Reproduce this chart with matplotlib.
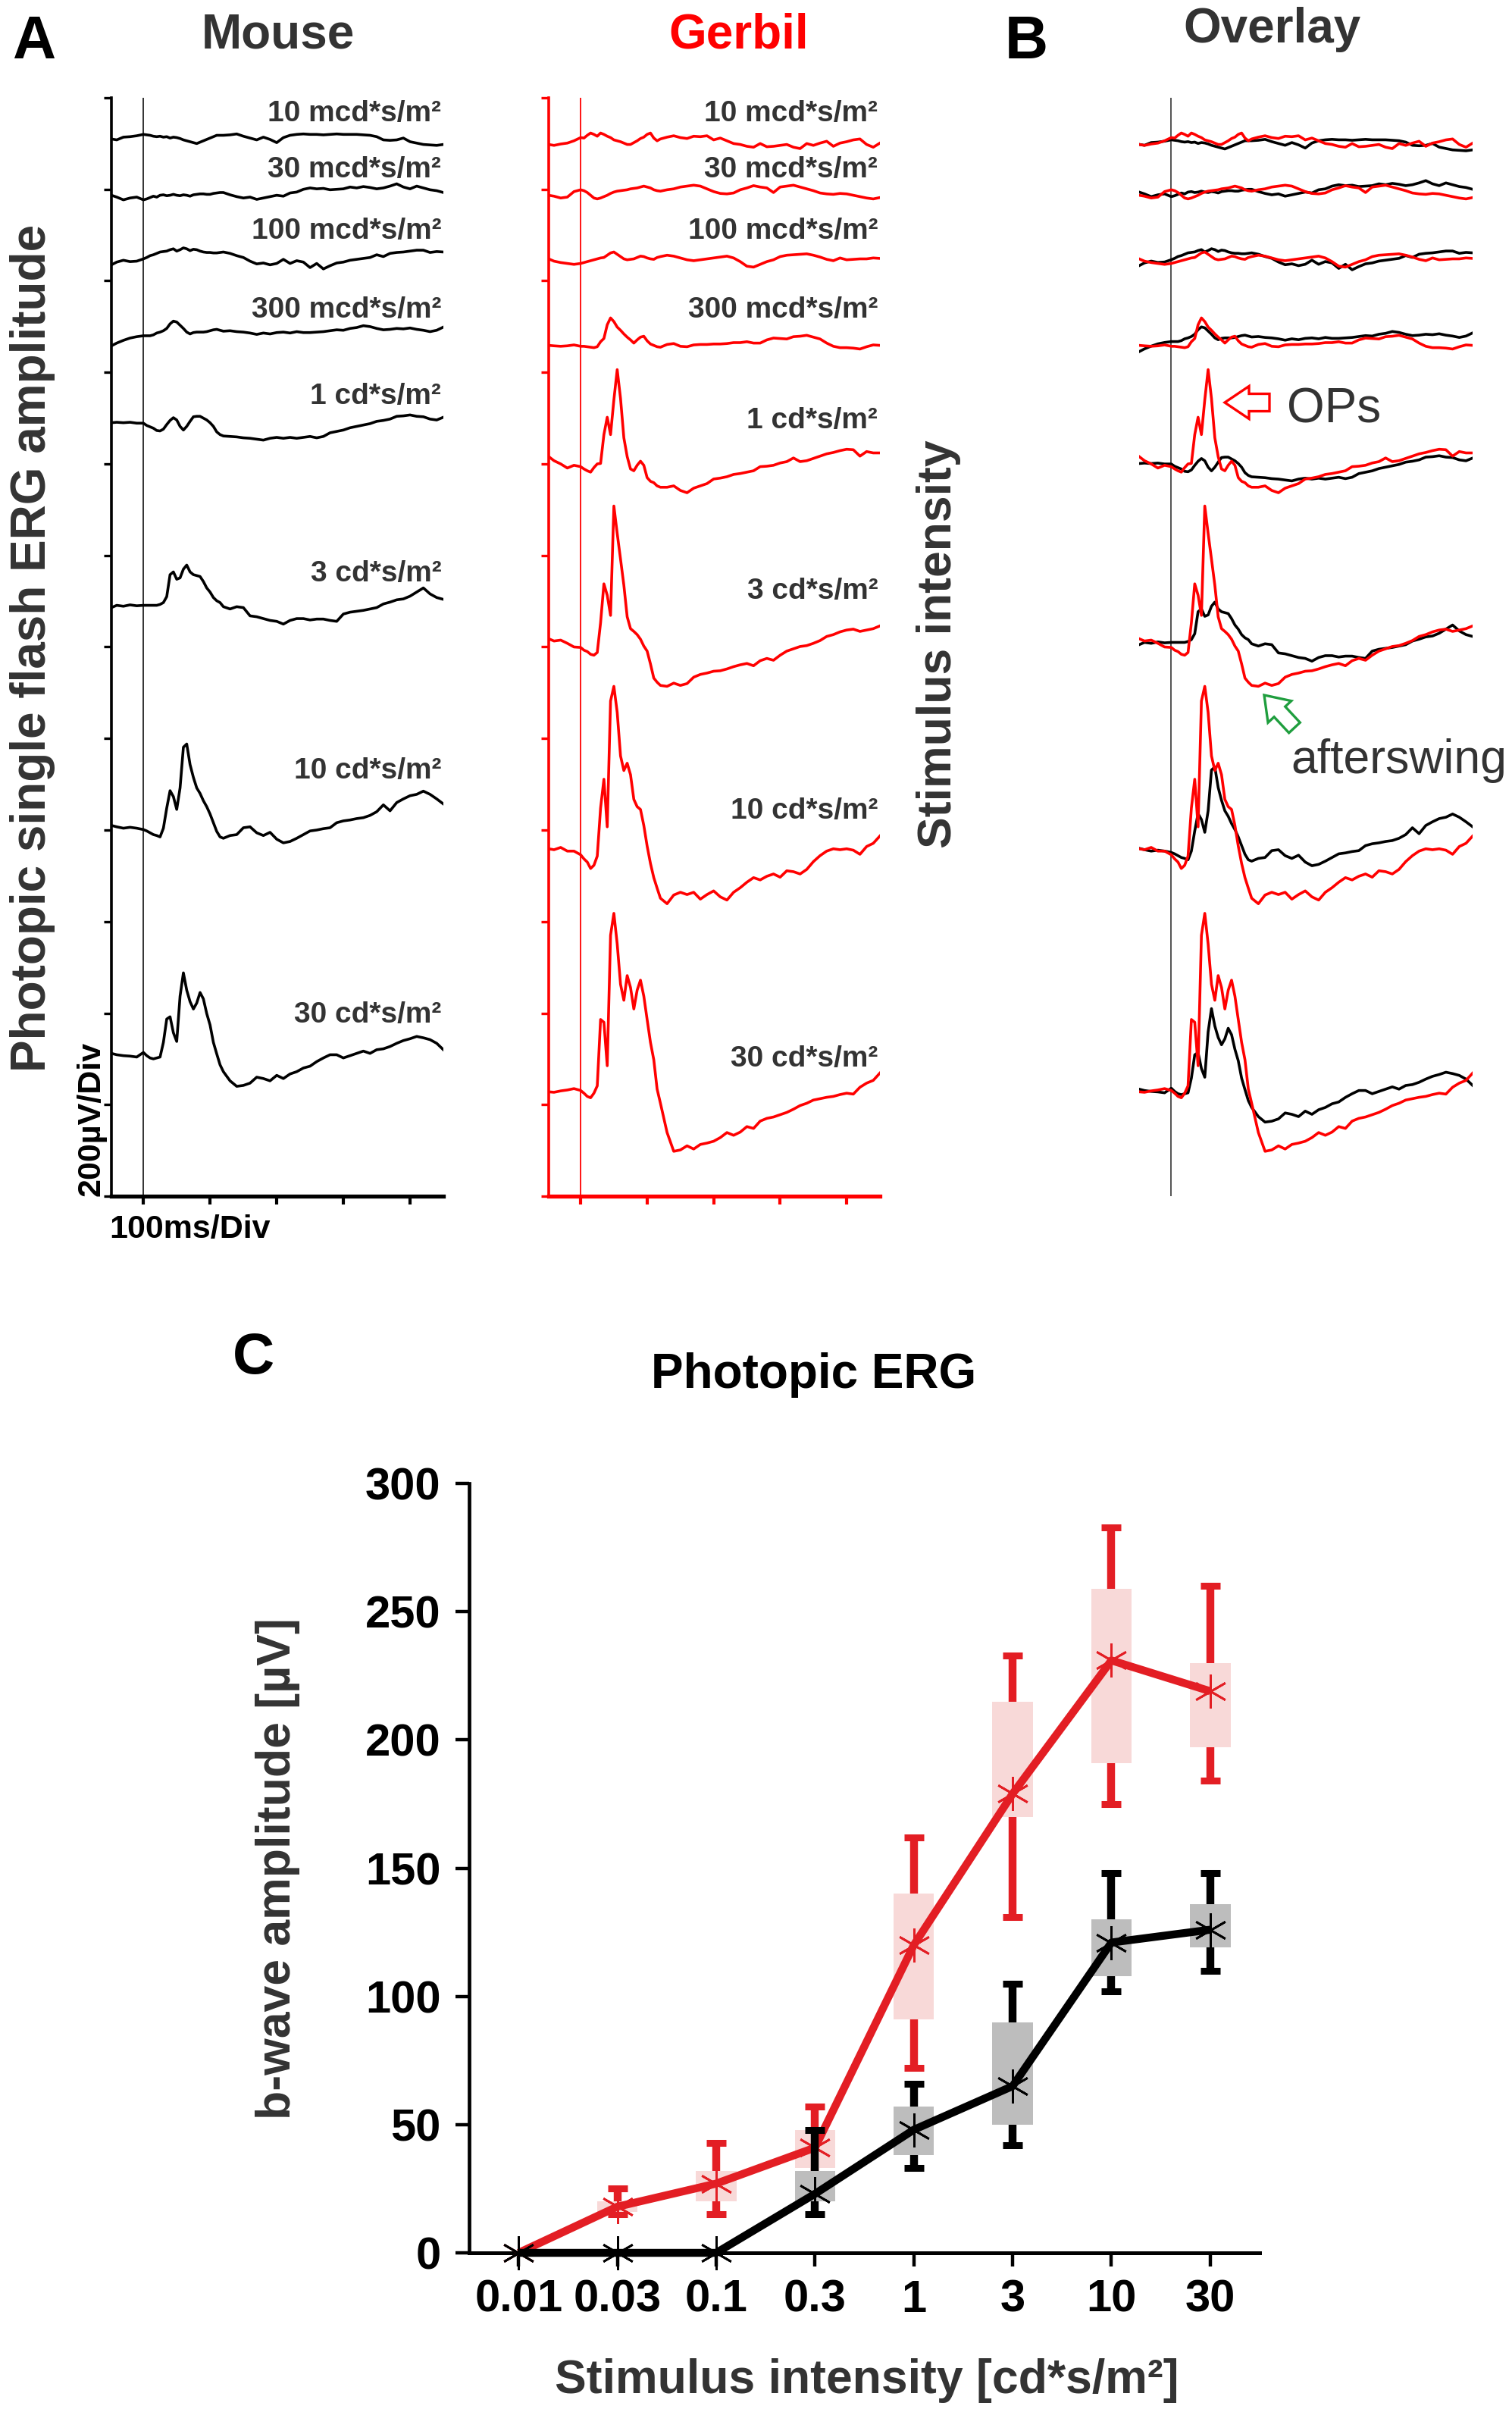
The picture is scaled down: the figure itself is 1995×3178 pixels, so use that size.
import numpy as np
import matplotlib
matplotlib.use('Agg')
import matplotlib.pyplot as plt
from matplotlib.patches import FancyArrow

plt.rcParams['font.family'] = ['Liberation Sans', 'DejaVu Sans']

# sample times of the digitised ERG sweeps (ms after the flash)
t_ms = [-48, -40, -30, -20, -10, 0, 5, 10, 15, 20, 25, 30, 35, 40, 45, 50, 55, 60, 65,
        70, 75, 80, 85, 90, 95, 100, 105, 110, 115, 120, 130, 140, 150, 160, 170, 180,
        190, 200, 210, 220, 230, 240, 250, 260, 270, 280, 290, 300, 310, 320, 330, 340,
        350, 360, 370, 380, 390, 400, 410, 420, 430, 440, 450]

flash_labels = ['10 mcd*s/m²', '30 mcd*s/m²', '100 mcd*s/m²', '300 mcd*s/m²',
                '1 cd*s/m²', '3 cd*s/m²', '10 cd*s/m²', '30 cd*s/m²']

# mouse sweeps, uV relative to sweep start
mouse_10m = [0, -2, 4, 5, 7,
             10, 9, 8, 6, 5, 6, 4, 5, 2, 4, 3, 1, -2, -4, -6, -8, -10, -7, -4, -1, 2, 5, 8, 8, 8,
             9, 11, 6, 2, -2, 4, -1, -8, 3, 8, 10, 11, 10, 10, 9, 10, 11, 10, 10, 10, 9, 8, 5, -2, -3, -2, 2, -6, -9, -12, -13, -14, -12]
mouse_30m = [0, -4, -10, -6, -4,
             -10, -8, -5, -2, -4, 0, 1, -1, 0, 2, 0, -1, 1, 0, -2, 1, 2, 3, 3, 2, 2, 4, 5, 6, 6,
             1, -3, -6, -4, -9, -6, -3, 0, -2, 5, 7, 13, 16, 14, 15, 12, 13, 14, 18, 16, 19, 17, 14, 16, 20, 25, 18, 14, 20, 16, 12, 10, 6]
mouse_100m = [0, 6, 10, 7, 8,
              13, 16, 20, 22, 25, 28, 29, 30, 33, 35, 30, 33, 37, 35, 31, 34, 33, 30, 28, 27, 27, 26, 26, 27, 28,
              25, 20, 16, 8, 2, 4, 0, 3, 12, 3, 9, 6, -6, 3, -9, -2, 4, 6, 10, 12, 14, 16, 22, 18, 25, 27, 28, 30, 32, 32, 27, 29, 28]
mouse_300m = [0, 6, 12, 17, 20,
              22, 22, 22, 24, 28, 30, 33, 38, 48, 54, 52, 45, 38, 30, 26, 29, 30, 30, 30, 31, 33, 35, 36, 34, 32,
              33, 31, 30, 28, 25, 28, 26, 29, 30, 28, 31, 29, 29, 30, 31, 33, 35, 34, 38, 40, 44, 42, 38, 35, 36, 38, 37, 39, 36, 34, 31, 34, 41]
mouse_1 = [0, 1, 0, 1, -1,
           -1, -6, -9, -12, -17, -18, -14, -4, 5, 11, 6, -8, -16, -8, 3, 13, 14, 14, 10, 6, 0, -8, -20, -26, -29,
           -30, -31, -33, -34, -36, -38, -34, -32, -34, -32, -34, -32, -30, -33, -30, -22, -19, -16, -11, -8, -5, -2, 3, 5, 8, 14, 15, 17, 14, 13, 8, 6, 12]
mouse_3 = [0, 5, 3, 6, 4,
           5, 5, 5, 5, 5, 7, 11, 24, 72, 78, 62, 65, 84, 93, 78, 72, 70, 68, 57, 43, 34, 22, 15, 11, 2,
           -3, 2, 0, -18, -20, -24, -28, -30, -36, -28, -24, -24, -27, -25, -25, -28, -30, -14, -10, -8, -6, -3, 0, 8, 12, 17, 19, 25, 34, 43, 30, 22, 18]
mouse_10 = [0, -3, -6, -4, -6,
            -9, -12, -16, -20, -22, -25, -6, 38, 76, 63, 35, 82, 171, 178, 133, 105, 82, 70, 54, 41, 25, 6, -13, -25, -28,
            -22, -20, -5, -3, -16, -22, -15, -30, -38, -35, -28, -20, -12, -10, -7, -5, 6, 10, 12, 15, 17, 22, 30, 45, 32, 50, 58, 65, 68, 75, 68, 58, 47]
mouse_30 = [0, -3, -5, -6, -8,
            2, -5, -10, -12, -10, -8, 24, 75, 80, 45, 26, 125, 176, 138, 113, 97, 110, 133, 119, 87, 62, 24, -1, -25, -40,
            -60, -72, -70, -65, -52, -55, -60, -48, -55, -45, -40, -32, -28, -18, -10, -3, -3, -10, -5, 0, 5, 0, 8, 10, 15, 22, 28, 32, 37, 34, 30, 22, 8]

# gerbil sweeps, uV relative to sweep baseline
gerbil_10m = [0, -2, 1, 3, 8,
              15, 14, 20, 25, 22, 18, 25, 22, 18, 15, 10, 8, 6, 3, 0, 0, 4, 8, 13, 16, 22, 25, 14, 8, 12,
              16, 19, 15, 13, 18, 17, 19, 10, 14, 8, 2, 0, -4, -6, 2, -5, -4, -2, 0, -6, -9, 2, -2, 3, 7, -4, 3, 6, 10, 12, 0, -6, 3]
gerbil_30m = [0, -2, -6, -4, 8,
              12, 10, 6, 0, -6, -8, -6, -3, 0, 4, 7, 9, 10, 11, 12, 14, 15, 16, 18, 20, 18, 16, 12, 10, 9,
              12, 14, 18, 20, 22, 20, 14, 8, 4, 3, 5, 12, 16, 21, 18, 16, 6, 18, 20, 22, 18, 14, 10, 5, 3, 2, 4, 3, 0, -3, -6, -8, -5]
gerbil_100m = [0, -5, -8, -10, -12,
               -10, -8, -6, -4, -2, 0, 2, 3, 8, 13, 15, 10, 5, 0, -2, -1, 0, 3, 6, 5, 2, 0, -1, 3, 5,
               8, 6, 2, -2, -4, -2, 0, 2, 4, 6, 2, -6, -16, -18, -12, -6, -2, 5, 8, 9, 10, 11, 8, 4, -1, -4, 2, -2, -1, 0, 0, 2, 1]
gerbil_300m = [0, -1, -2, -1, 1,
               -2, -2, -3, -4, -5, -3, 8, 15, 45, 60, 52, 40, 33, 25, 18, 12, 5, 12, 18, 20, 10, 3, 0, -3, -4,
               2, 4, -2, -3, 1, 2, 2, 3, 3, 4, 6, 6, 8, 5, 5, 12, 16, 15, 14, 19, 20, 22, 18, 14, 5, -2, -5, -5, -6, -8, -3, 1, 0]
gerbil_1 = [19, 10, 3, -6, 0,
            -3, -8, -12, -15, -5, 3, 4, 67, 105, 67, 143, 209, 146, 60, 19, -8, -12, 0, 9, 0, -27, -35, -38, -45, -48,
            -48, -45, -55, -60, -50, -45, -40, -30, -28, -25, -20, -18, -15, -12, -3, -2, 0, 5, 8, 16, 8, 10, 15, 20, 25, 28, 32, 35, 34, 20, 30, 27, 27]
gerbil_3 = [0, -5, -3, -10, -18,
            -19, -25, -28, -34, -36, -30, 35, 120, 95, 51, 290, 230, 174, 117, 48, 22, 16, 9, -1, -16, -27, -55, -86, -95, -102,
            -104, -97, -102, -98, -84, -78, -75, -71, -70, -66, -61, -57, -54, -59, -48, -43, -47, -36, -27, -22, -17, -15, -10, -4, 5, 9, 15, 19, 21, 16, 19, 22, 28]
gerbil_10 = [0, -2, 3, -5, -5,
             -13, -22, -29, -43, -36, -16, 89, 152, 48, 323, 355, 298, 203, 171, 187, 162, 108, 92, 86, 51, 6, -32, -63, -86, -108,
             -120, -101, -95, -100, -95, -110, -100, -92, -105, -112, -95, -85, -73, -63, -68, -60, -55, -62, -48, -50, -55, -45, -28, -15, -5, 0, -2, 0, -3, -12, 5, 12, 28]
gerbil_30 = [0, -1, 2, 4, 7,
             3, -3, -10, -13, -3, 13, 158, 152, 57, 342, 390, 323, 235, 200, 254, 228, 181, 222, 244, 209, 158, 108, 70, 6, -25,
             -89, -130, -127, -118, -125, -115, -112, -108, -100, -89, -95, -88, -76, -80, -64, -58, -55, -50, -45, -38, -30, -25, -18, -15, -12, -10, -6, -3, -5, 10, 19, 25, 41]

mouse_traces = [mouse_10m, mouse_30m, mouse_100m, mouse_300m, mouse_1, mouse_3, mouse_10, mouse_30]
gerbil_traces = [gerbil_10m, gerbil_30m, gerbil_100m, gerbil_300m, gerbil_1, gerbil_3, gerbil_10, gerbil_30]

# panel C: b-wave amplitude (uV)
intensities = ['0.01', '0.03', '0.1', '0.3', '1', '3', '10', '30']
gerbil_mean = [0, 18, 27, 41, 120, 179, 231, 219]
gerbil_box_lo = [0, 16, 20, 33, 91, 170, 191, 197]
gerbil_box_hi = [0, 20, 32, 48, 140, 215, 259, 230]
gerbil_err_lo = [0, 15, 15, 30, 72, 131, 175, 184]
gerbil_err_hi = [0, 25, 43, 57, 162, 233, 283, 260]
mouse_mean = [0, 0, 0, 23, 48, 65, 121, 126]
mouse_box_lo = [0, 0, 0, 20, 38, 50, 108, 119]
mouse_box_hi = [0, 0, 0, 32, 57, 90, 130, 136]
mouse_err_lo = [0, 0, 0, 15, 33, 42, 102, 110]
mouse_err_hi = [0, 0, 0, 48, 66, 105, 148, 148]

# vertical placement of each sweep and its label (uV on the stacked axis)
mouse_base = [2310, 2187, 2035, 1858, 1690, 1286, 810, 312]
gerbil_base = [2298, 2187, 2048, 1859, 1597, 1218, 759, 228]
mouse_label_y = [2365, 2242, 2108, 1937, 1747, 1360, 930, 396]
gerbil_label_y = [2365, 2242, 2108, 1937, 1695, 1321, 842, 300]

RED = '#ff0000'
DARK = '#333333'
LW = 2.6

fig = plt.figure(figsize=(19.95, 31.78), dpi=100)


def trace_axes(rect, color, vcolor):
    ax = fig.add_axes(rect)
    ax.set_xlim(-48, 450)
    ax.set_ylim(0, 2400)
    ax.spines['top'].set_visible(False)
    ax.spines['right'].set_visible(False)
    ax.spines['left'].set_linewidth(2.6)
    ax.spines['bottom'].set_linewidth(3.8)
    ax.spines['left'].set_color(color)
    ax.spines['bottom'].set_color(color)
    ax.set_yticks(np.arange(0, 2401, 200))
    ax.set_xticks([0, 100, 200, 300, 400])
    ax.tick_params(direction='out', color=color, labelleft=False, labelbottom=False)
    ax.tick_params(axis='y', length=7, width=2.4)
    ax.tick_params(axis='x', length=8, width=3)
    ax.axvline(0, color=vcolor, lw=1.3, zorder=1)
    return ax


ax_m = trace_axes([0.07368, 0.50346, 0.21955, 0.45595], 'black', '#222222')
for tr, b, ly, lab in zip(mouse_traces, mouse_base, mouse_label_y, flash_labels):
    ax_m.plot(t_ms, np.array(tr) + b, color='black', lw=LW, zorder=3)
    ax_m.text(447, ly, lab, ha='right', va='center', fontsize=28, fontweight='bold', color=DARK)

ax_g = trace_axes([0.3629, 0.50346, 0.21905, 0.45595], RED, RED)
for tr, b, ly, lab in zip(gerbil_traces, gerbil_base, gerbil_label_y, flash_labels):
    ax_g.plot(t_ms, np.array(tr) + b, color=RED, lw=LW, zorder=3)
    ax_g.text(447, ly, lab, ha='right', va='center', fontsize=28, fontweight='bold', color=DARK)

# overlay: mouse sweeps aligned to the gerbil pre-flash baseline
ax_o = fig.add_axes([0.7534, 0.50346, 0.2206, 0.45595])
ax_o.set_xlim(-48, 450)
ax_o.set_ylim(0, 2400)
ax_o.axis('off')
ax_o.axvline(0, color='#444444', lw=1.3, zorder=1)
for mt, gt, b in zip(mouse_traces, gerbil_traces, gerbil_base):
    shift = np.mean(gt[:6]) - np.mean(mt[:6])
    ax_o.plot(t_ms, np.array(mt) + b + shift, color='black', lw=LW, zorder=2)
    ax_o.plot(t_ms, np.array(gt) + b, color=RED, lw=LW, zorder=3)

# panel C
ax_c = fig.add_axes([0.31028, 0.06482, 0.52281, 0.31938])
xpos = np.arange(len(intensities))
ax_c.set_xlim(-0.5, 7.5)
ax_c.set_ylim(0, 300)
ax_c.spines['top'].set_visible(False)
ax_c.spines['right'].set_visible(False)
ax_c.spines['left'].set_linewidth(3.4)
ax_c.spines['bottom'].set_linewidth(3.6)
ax_c.set_yticks([0, 50, 100, 150, 200, 250, 300])
ax_c.set_xticks(xpos)
ax_c.set_xticklabels(intensities)
ax_c.tick_params(direction='out', length=13, width=3.2, labelsize=43, pad=12)
ax_c.tick_params(axis='y', pad=14)
for lab in ax_c.get_xticklabels() + ax_c.get_yticklabels():
    lab.set_fontweight('bold')


def draw_group(mean, blo, bhi, elo, ehi, line_c, box_c, z):
    mean = np.array(mean, float)
    elo = np.array(elo, float)
    ehi = np.array(ehi, float)
    blo = np.array(blo, float)
    bhi = np.array(bhi, float)
    keep = ehi > elo
    ax_c.errorbar(xpos[keep], mean[keep], yerr=[mean[keep] - elo[keep], ehi[keep] - mean[keep]],
                  fmt='none', ecolor=line_c, elinewidth=7.5, capsize=9.5, capthick=6.5, zorder=z)
    ax_c.bar(xpos[keep], bhi[keep] - blo[keep], bottom=blo[keep], width=0.41,
             color=box_c, edgecolor='none', zorder=z + 1)
    ax_c.plot(xpos, mean, color=line_c, lw=7.5, zorder=z + 2, clip_on=False, solid_capstyle='butt')
    ax_c.plot(xpos, mean, ls='none', marker=(6, 2, 0), ms=32, mec=line_c, mew=2.0,
              zorder=z + 3, clip_on=False)


draw_group(gerbil_mean, gerbil_box_lo, gerbil_box_hi, gerbil_err_lo, gerbil_err_hi,
           '#e31e24', '#f8d9d8', 2)
draw_group(mouse_mean, mouse_box_lo, mouse_box_hi, mouse_err_lo, mouse_err_hi,
           'black', '#bdbdbd', 6)

# free text and arrows in pixel coordinates
ax_p = fig.add_axes([0, 0, 1, 1], zorder=10)
ax_p.set_xlim(0, 1995)
ax_p.set_ylim(3178, 0)
ax_p.axis('off')

bold = dict(fontweight='bold')
ax_p.text(16, 77, 'A', fontsize=57, color='black', ha='left', va='baseline', **bold)
ax_p.text(1326, 77, 'B', fontsize=57, color='black', ha='left', va='baseline', **bold)
ax_p.text(307, 1812, 'C', fontsize=55, color='black', ha='left', va='baseline', **bold)
ax_p.text(367, 64, 'Mouse', fontsize=46, color=DARK, ha='center', va='baseline', **bold)
ax_p.text(975, 64, 'Gerbil', fontsize=46, color=RED, ha='center', va='baseline', **bold)
ax_p.text(1678, 56, 'Overlay', fontsize=46, color=DARK, ha='center', va='baseline', **bold)
ax_p.text(43, 855, 'Photopic single flash ERG amplitude', fontsize=46, color=DARK,
          rotation=90, ha='center', va='center', **bold)
ax_p.text(1239, 850, 'Stimulus intensity', fontsize=45, color=DARK,
          rotation=90, ha='center', va='center', **bold)
ax_p.text(121, 1578, '200µV/Div', fontsize=31, color='black', rotation=90,
          ha='center', va='bottom', **bold)
ax_p.text(144, 1633, '100ms/Div', fontsize=31, color='black', ha='left', va='baseline', **bold)
ax_p.text(1074, 1831, 'Photopic ERG', fontsize=46, color='black', ha='center', va='baseline', **bold)
ax_p.text(366, 2465, 'b-wave amplitude [µV]', fontsize=45, color=DARK, rotation=90,
          ha='center', va='center', **bold)
ax_p.text(1144, 3140, 'Stimulus intensity [cd*s/m²]', fontsize=45, color=DARK,
          ha='center', va='center', **bold)

ax_p.add_patch(FancyArrow(1675, 531, -59, 0, width=23, head_width=43, head_length=32,
                          length_includes_head=True, fc='white', ec=RED, lw=2.4))
ax_p.text(1698, 558, 'OPs', fontsize=46, color=DARK, ha='left', va='baseline')
ax_p.add_patch(FancyArrow(1708, 960, -40, -43, width=20, head_width=42, head_length=30,
                          length_includes_head=True, fc='white', ec='#1f9e3e', lw=2.4))
ax_p.text(1703, 1020, 'afterswing', fontsize=45, color=DARK, ha='left', va='baseline')

fig.savefig('out.png', dpi=100, facecolor='white')
